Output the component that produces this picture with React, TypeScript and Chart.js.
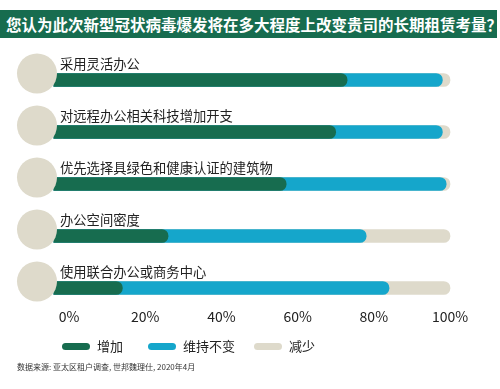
import React, { useEffect, useRef } from "react";
import { Chart, registerables } from "chart.js";

Chart.register(...registerables);

const TITLE = "您认为此次新型冠状病毒爆发将在多大程度上改变贵司的长期租赁考量？";
const SOURCE = "数据来源: 亚太区租户调查, 世邦魏理仕, 2020年4月";

const categories = [
  "采用灵活办公",
  "对远程办公相关科技增加开支",
  "优先选择具绿色和健康认证的建筑物",
  "办公空间密度",
  "使用联合办公或商务中心",
];

const seriesNames = ["增加", "维持不变", "减少"];
const increase = [73, 70, 57, 26, 14];
const maintain = [25, 28, 42, 52, 70];
const decrease = [2, 2, 1, 22, 16];
const tickValues = [0, 20, 40, 60, 80, 100];

const GREEN = "#176c4f";
const BLUE = "#15a6cb";
const BEIGE = "#dedacb";
const FONT = '"Noto Sans CJK SC", "Noto Sans", sans-serif';

const cumGreen = increase.map((v) => v);
const cumBlue = increase.map((v, i) => v + maintain[i]);
const cumBeige = increase.map((v, i) => v + maintain[i] + decrease[i]);

const overlayPlugin = {
  id: "overlay",
  afterDatasetsDraw(chart: any) {
    const ctx = chart.ctx;
    const y = chart.scales.y;
    ctx.save();
    categories.forEach((c, i) => {
      const cy = y.getPixelForValue(i);
      ctx.beginPath();
      ctx.arc(37, cy - 6.5, 20, 0, Math.PI * 2);
      ctx.fillStyle = BEIGE;
      ctx.fill();
      ctx.fillStyle = "#222";
      ctx.font = `13.3px ${FONT}`;
      ctx.textBaseline = "middle";
      ctx.textAlign = "left";
      ctx.fillText(c, 60, cy - 16);
    });
    ctx.restore();
  },
};

function BarChart() {
  const ref = useRef<HTMLCanvasElement>(null);
  useEffect(() => {
    if (!ref.current) return;
    const mk = (label: string, data: number[], color: string) => ({
      label,
      data,
      backgroundColor: color,
      base: -4,
      grouped: false,
      barThickness: 13,
      borderRadius: 7,
      borderSkipped: "start",
      clip: false,
    });
    const chart = new Chart(ref.current, {
      type: "bar",
      data: {
        labels: categories,
        datasets: [
          mk(seriesNames[0], cumGreen, GREEN),
          mk(seriesNames[1], cumBlue, BLUE),
          mk(seriesNames[2], cumBeige, BEIGE),
        ] as any,
      },
      options: {
        indexAxis: "y",
        animation: false,
        responsive: false,
        layout: { padding: { left: 53.8, right: 50, top: 40, bottom: 22 } },
        plugins: { legend: { display: false }, tooltip: { enabled: false } },
        scales: {
          x: {
            min: -4,
            max: 100,
            grid: { display: false },
            border: { display: false },
            afterBuildTicks: (axis: any) => {
              axis.ticks = tickValues.map((v) => ({ value: v }));
            },
            ticks: {
              padding: 12.6,
              color: "#222",
              font: { family: FONT, size: 14 },
              callback: (v: any) => `${v}%`,
              maxRotation: 0,
              autoSkip: false,
            },
          },
          y: {
            offset: false,
            display: false,
            grid: { display: false },
          },
        },
      },
      plugins: [overlayPlugin],
    });
    return () => chart.destroy();
  }, []);
  return <canvas ref={ref} width={500} height={320} style={{ position: "absolute", left: 0, top: 40 }} />;
}

export default function App() {
  const colors = [GREEN, BLUE, BEIGE];
  const legendLeft = [62, 148, 254];
  return (
    <div style={{ position: "fixed", left: 0, top: 0, width: 500, height: 389, background: "#fff", fontFamily: FONT, overflow: "hidden" }}>
      <div
        style={{
          position: "absolute",
          left: 0,
          top: 10,
          width: 497,
          height: 28,
          background: GREEN,
          color: "#fff",
          fontWeight: "bold",
          fontSize: 15.5,
          lineHeight: "28px",
          paddingLeft: 6,
          boxSizing: "border-box",
          whiteSpace: "nowrap",
        }}
      >
        {TITLE}
      </div>
      <BarChart />
      {seriesNames.map((n, i) => (
        <div key={n} style={{ position: "absolute", left: legendLeft[i], top: 337, height: 18, display: "flex", alignItems: "center" }}>
          <div style={{ width: 28, height: 7, borderRadius: 4, background: colors[i], marginRight: 7 }} />
          <span style={{ fontSize: 13, color: "#222", lineHeight: "18px" }}>{n}</span>
        </div>
      ))}
      <div style={{ position: "absolute", left: 17, top: 361, fontSize: 8, color: "#333", lineHeight: "12px", whiteSpace: "nowrap" }}>{SOURCE}</div>
    </div>
  );
}
